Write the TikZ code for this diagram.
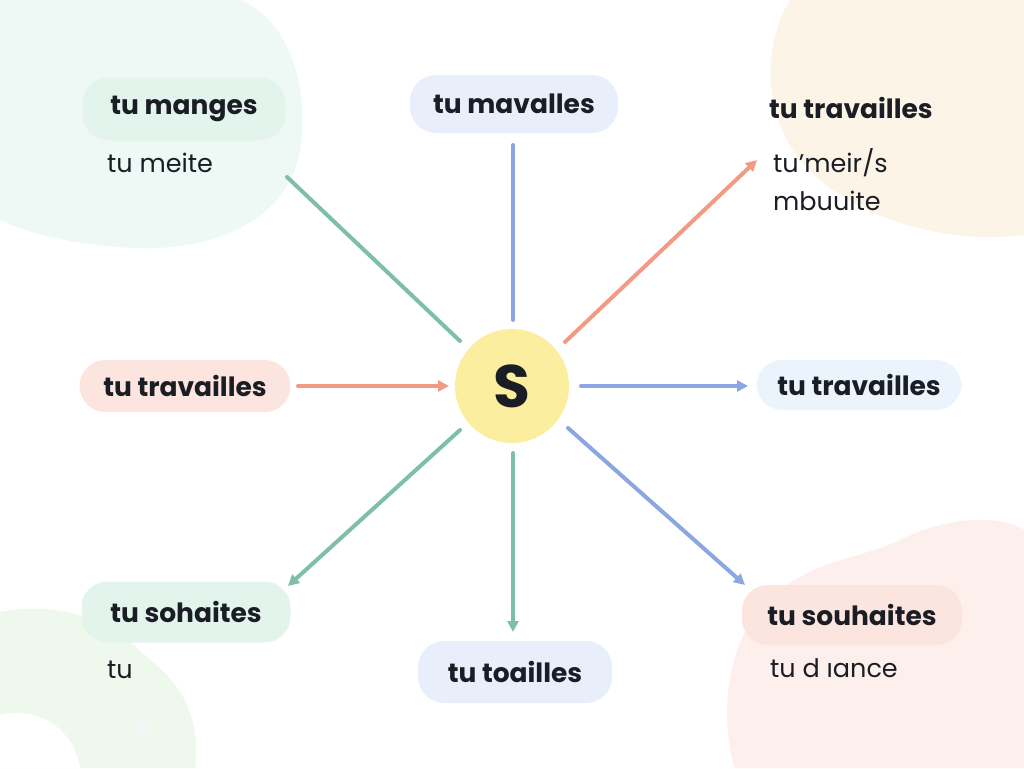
\documentclass[tikz,border=0pt]{standalone}
\usepackage{fontspec}
\setmainfont{Poppins}
\usetikzlibrary{arrows.meta}
\definecolor{mintbg}{HTML}{EEF8F4}
\definecolor{peachbg}{HTML}{FDF4E8}
\definecolor{pinkbg}{HTML}{FDEFEB}
\definecolor{greenbg}{HTML}{EFF8EC}
\definecolor{mintpill}{HTML}{E2F4EC}
\definecolor{lavpill}{HTML}{E9EEFB}
\definecolor{pinkpill}{HTML}{FCE4DF}
\definecolor{bluepill}{HTML}{EBF3FC}
\definecolor{sunfill}{HTML}{FBEF9F}
\definecolor{cgreen}{HTML}{7DBFAA}
\definecolor{cblue}{HTML}{8BA6E2}
\definecolor{csalmon}{HTML}{F39A85}
\definecolor{ink}{HTML}{1A1E24}
\tikzset{
  pill/.style={rounded corners=26pt, minimum height=#1, inner xsep=0pt, text=ink, font=\fontsize{26.5}{30}\selectfont\bfseries},
  plain/.style={text=ink, font=\fontsize{25.5}{29}\selectfont, anchor=west, inner sep=0pt},
  head/.style={text=ink, font=\fontsize{26.5}{30}\selectfont\bfseries, anchor=west, inner sep=0pt},
  conn/.style={line width=4pt, line cap=round},
  tip/.style={-{Triangle[length=11pt,width=11pt]}},
}
\begin{document}
\begin{tikzpicture}[x=1pt,y=-1pt]
\useasboundingbox (0,0) rectangle (1024,768);
\fill[white] (0,0) rectangle (1024,768);
% background blobs
\fill[mintbg] (0,0) -- (240,0) .. controls (290,20) and (310,90) .. (300,150) .. controls (290,210) and (230,250) .. (140,248) .. controls (70,246) and (20,230) .. (0,220) -- cycle;
\fill[peachbg] (790,0) -- (1024,0) -- (1024,235) .. controls (950,245) and (850,220) .. (800,160) .. controls (760,110) and (765,40) .. (790,0) -- cycle;
\fill[pinkbg] (1024,530) -- (1024,768) -- (735,768) .. controls (720,720) and (725,650) .. (760,610) .. controls (800,560) and (860,560) .. (900,540) .. controls (950,515) and (1000,515) .. (1024,530) -- cycle;
\fill[greenbg] (0,612) .. controls (60,600) and (110,620) .. (150,660) .. controls (190,690) and (200,730) .. (195,768) -- (0,768) -- cycle;
\fill[white] (0,715) .. controls (45,705) and (75,735) .. (80,768) -- (0,768) -- cycle;
\fill[greenbg!80!cgreen!40] (143,728) circle (10);
% nodes
\node[pill=63pt, minimum width=203pt, fill=mintpill] (tl) at (184,109) {tu manges};
\node[plain] (tls) at (107,163) {tu meite};
\node[pill=58pt, minimum width=208pt, fill=lavpill] (t) at (514,104) {tu mavalles};
\node[head] (tr) at (769,108) {tu travailles};
\node[plain] (trs) at (773,163) {tu’meir/s};
\node[plain] (trs2) at (773,201) {mbuuite};
\node[pill=52pt, minimum width=211pt, fill=pinkpill] (l) at (185,386) {tu travailles};
\node[pill=50pt, minimum width=205pt, fill=bluepill] (r) at (859,385) {tu travailles};
\node[pill=61pt, minimum width=209pt, fill=mintpill] (bl) at (186,612) {tu sohaites};
\node[plain] (bls) at (107,670) {tu};
\node[pill=62pt, minimum width=194pt, fill=lavpill] (b) at (515,672) {tu toailles};
\node[pill=60pt, minimum width=220pt, fill=pinkpill] (br) at (852,615) {tu souhaites};
\node[plain] (brs) at (770,668) {tu d ıance};
\node[circle, fill=sunfill, minimum size=114pt, inner sep=0pt, text=ink, font=\fontsize{60}{60}\selectfont\bfseries] (c) at (512,386) {S};
% connector endpoints
\coordinate (a1) at (287,177); \coordinate (a2) at (460,341);
\coordinate (b1) at (513,145); \coordinate (b2) at (513,320);
\coordinate (c1) at (565,342); \coordinate (c2) at (757,160);
\coordinate (d1) at (298,386); \coordinate (d2) at (449,386);
\coordinate (e1) at (581,386); \coordinate (e2) at (748,386);
\coordinate (f1) at (460,430); \coordinate (f2) at (288,586);
\coordinate (g1) at (513,453); \coordinate (g2) at (513,632);
\coordinate (h1) at (568,428); \coordinate (h2) at (745,585);
\draw[conn, cgreen] (a1) -- (a2);
\draw[conn, cblue] (b1) -- (b2);
\draw[conn, csalmon, tip] (c1) -- (c2);
\draw[conn, csalmon, tip] (d1) -- (d2);
\draw[conn, cblue, tip] (e1) -- (e2);
\draw[conn, cgreen, tip] (f1) -- (f2);
\draw[conn, cgreen, tip] (g1) -- (g2);
\draw[conn, cblue, tip] (h1) -- (h2);
\end{tikzpicture}
\end{document}
